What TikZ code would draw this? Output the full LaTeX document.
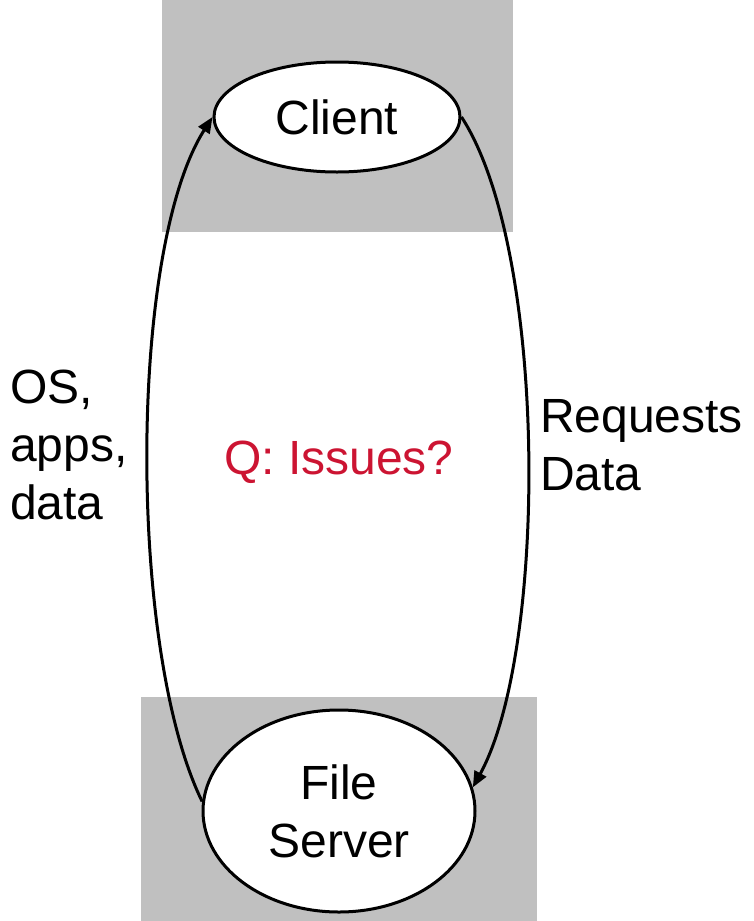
\documentclass[tikz,border=0pt]{standalone}
\usepackage{fontspec}
\setmainfont{Liberation Sans}
\usetikzlibrary{shapes.geometric,arrows.meta}
\definecolor{panelgray}{RGB}{192,192,192}
\definecolor{qred}{RGB}{204,20,50}
\begin{document}
\begin{tikzpicture}[x=1pt,y=-1pt,
  txt/.style={font=\fontsize{48}{58}\selectfont,inner sep=0pt},
  host/.style={ellipse,draw=black,line width=3pt,fill=white,inner sep=0pt,
    font=\fontsize{48}{58}\selectfont,align=center},
  flow/.style={line width=3pt,-{Triangle[length=16pt,width=13pt]}}]
  \useasboundingbox (0,0) rectangle (753,921);
  % shaded panels behind the two machines
  \fill[panelgray] (162,0) rectangle (513,232);
  \fill[panelgray] (141,697) rectangle (537,921);
  % machines
  \node[host,minimum width=246pt,minimum height=110pt] (cl) at (337,117) {Client};
  \node[host,minimum width=272pt,minimum height=202pt] (fs) at (339,811) {File\\Server};
  % traffic between them
  \draw[flow] (fs.176) .. controls (128,650) and (128,250) .. (cl.west);
  \draw[flow] (cl.east) .. controls (548,250) and (548,650) .. (fs.10);
  % labels
  \node[txt,align=left,anchor=west] (lbl) at (10,445) {OS,\\apps,\\data};
  \node[txt,align=left,anchor=west] (lbr) at (540,445) {Requests\\Data};
  \node[txt,text=qred] (q) at (339,462) {Q: Issues?};
\end{tikzpicture}
\end{document}
